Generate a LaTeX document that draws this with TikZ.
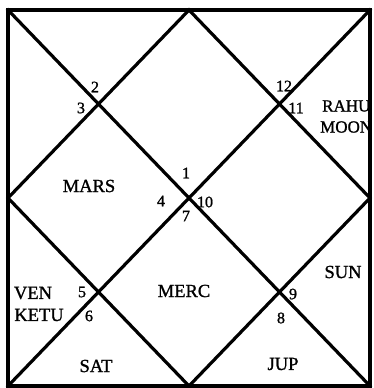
\documentclass[tikz,border=0pt]{standalone}
\usepackage{fontspec}
\setmainfont{Liberation Serif}[FakeBold=1.2]
\begin{document}
\begin{tikzpicture}[x=1pt,y=-1pt,
  chartline/.style={line width=3.2pt, line join=miter, line cap=rect},
  planet/.style={font=\fontsize{18.5}{18.5}\selectfont, inner sep=0pt},
  planetnarrow/.style={font=\fontsize{17}{17}\selectfont, inner sep=0pt, anchor=west},
  housenum/.style={font=\fontsize{16}{16}\selectfont, inner sep=0pt}]
\useasboundingbox (0,0) rectangle (374,388);
\coordinate (TL) at (8,10);
\coordinate (TR) at (370,10);
\coordinate (BL) at (8,386);
\coordinate (BR) at (370,386);
\coordinate (T) at (189,10);
\coordinate (B) at (189,386);
\coordinate (L) at (8,198);
\coordinate (R) at (370,198);
\draw[chartline] (TL) rectangle (BR);
\draw[chartline] (TL) -- (BR);
\draw[chartline] (TR) -- (BL);
\draw[chartline] (T) -- (R) -- (B) -- (L) -- cycle;
% house numbers
\node[housenum] (h1) at (186,173) {1};
\node[housenum] (h2) at (95,87) {2};
\node[housenum] (h3) at (81,108) {3};
\node[housenum] (h4) at (161,201) {4};
\node[housenum] (h5) at (82,292) {5};
\node[housenum] (h6) at (89,316) {6};
\node[housenum] (h7) at (186,216) {7};
\node[housenum] (h8) at (281,318) {8};
\node[housenum] (h9) at (293,294) {9};
\node[housenum] (h10) at (205,202) {10};
\node[housenum] (h11) at (296,108) {11};
\node[housenum] (h12) at (284,86) {12};
% planets
\node[planet] (mars) at (89,186) {MARS};
\node[planet] (merc) at (184,291) {MERC};
\node[planet] (sun) at (343,272) {SUN};
\node[planet] (ven) at (33,293) {VEN};
\node[planet] (ketu) at (39,315) {KETU};
\node[planet] (sat) at (96,366) {SAT};
\node[planet] (jup) at (283,364) {JUP};
\node[planetnarrow] (rahu) at (322,106) {RAHU};
\node[planetnarrow] (moon) at (320,127) {MOON};
\end{tikzpicture}
\end{document}
